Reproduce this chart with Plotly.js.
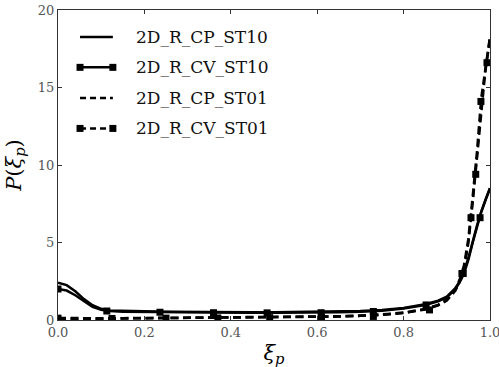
<!DOCTYPE html>
<html>
<head>
<meta charset="utf-8">
<script src="https://cdn.plot.ly/plotly-3.0.1.min.js"></script>
<style>html,body{margin:0;padding:0;background:#fff;}#chart{width:499px;height:367px;}</style>
</head>
<body>
<div id="chart"></div>
<script>
// ---- data ----
var seriesNames = ["2D_R_CP_ST10", "2D_R_CV_ST10", "2D_R_CP_ST01", "2D_R_CV_ST01"];
var xi = [0, 0.02, 0.04, 0.06, 0.08, 0.10, 0.12, 0.15, 0.2, 0.25, 0.3, 0.35, 0.4, 0.45, 0.5, 0.55, 0.6, 0.65, 0.7, 0.75, 0.8, 0.85, 0.88, 0.9, 0.92, 0.93, 0.94, 0.95, 0.96, 0.97, 0.98, 0.99, 1.0];
var cpST10 = [2.4, 2.25, 1.85, 1.35, 0.95, 0.72, 0.62, 0.58, 0.56, 0.54, 0.52, 0.51, 0.50, 0.50, 0.50, 0.51, 0.52, 0.54, 0.58, 0.64, 0.78, 1.02, 1.25, 1.5, 2.05, 2.5, 3.15, 4.0, 5.1, 6.1, 7.0, 7.8, 8.5];
var cvST10 = [2.0, 1.9, 1.6, 1.2, 0.85, 0.66, 0.58, 0.54, 0.52, 0.5, 0.48, 0.47, 0.46, 0.46, 0.46, 0.46, 0.47, 0.5, 0.54, 0.6, 0.74, 0.97, 1.2, 1.45, 2.0, 2.45, 3.0, 3.9, 5.0, 6.0, 7.0, 7.8, 8.5];
var cpST01 = [0.05, 0.06, 0.07, 0.08, 0.09, 0.1, 0.1, 0.11, 0.12, 0.13, 0.14, 0.15, 0.16, 0.17, 0.18, 0.19, 0.2, 0.23, 0.27, 0.33, 0.45, 0.68, 0.95, 1.25, 1.9, 2.5, 3.3, 5.0, 7.6, 10.6, 13.8, 16.3, 18.2];
var cvST01 = [0.12, 0.11, 0.1, 0.1, 0.1, 0.1, 0.1, 0.11, 0.12, 0.13, 0.14, 0.15, 0.16, 0.17, 0.18, 0.19, 0.2, 0.23, 0.28, 0.35, 0.47, 0.7, 0.97, 1.3, 2.0, 2.6, 3.5, 5.2, 7.9, 10.8, 14.3, 16.3, 18.2];
// marker positions
var cvST10MarkX = [0, 0.113, 0.236, 0.36, 0.484, 0.609, 0.73, 0.852, 0.938, 0.977];
var cvST10MarkY = [2.0, 0.58, 0.5, 0.47, 0.46, 0.47, 0.55, 0.97, 3.0, 6.6];
var cvST01MarkX = [0, 0.125, 0.25, 0.37, 0.49, 0.61, 0.73, 0.86, 0.935, 0.956, 0.967, 0.979, 0.993];
var cvST01MarkY = [0.12, 0.1, 0.12, 0.13, 0.15, 0.17, 0.23, 0.65, 3.0, 6.6, 9.4, 14.1, 16.6];
var xTicks = [0, 0.2, 0.4, 0.6, 0.8, 1.0];
var xTickText = ["0.0", "0.2", "0.4", "0.6", "0.8", "1.0"];
var yTicks = [0, 5, 10, 15, 20];
var yTickText = ["0", "5", "10", "15", "20"];

var SERIF = "DejaVu Serif";
var DASH = "8px,4.5px";

var traces = [
  {x: xi, y: cpST10, mode: "lines", line: {color: "#000", width: 2.5}, name: seriesNames[0]},
  {x: xi, y: cvST10, mode: "lines", line: {color: "#000", width: 2.5}, name: seriesNames[1]},
  {x: cvST10MarkX, y: cvST10MarkY, mode: "markers", marker: {symbol: "square", size: 7, color: "#000"}, name: seriesNames[1], showlegend: false},
  {x: xi, y: cpST01, mode: "lines", line: {color: "#000", width: 2.5, dash: DASH}, name: seriesNames[2]},
  {x: xi, y: cvST01, mode: "lines", line: {color: "#000", width: 2.8, dash: DASH}, name: seriesNames[3]},
  {x: cvST01MarkX, y: cvST01MarkY, mode: "markers", marker: {symbol: "square", size: 7, color: "#000"}, name: seriesNames[3], showlegend: false}
];

// manual legend (matplotlib style)
var legY = [0.913, 0.815, 0.716, 0.618];
var legX0 = 0.051, legX1 = 0.127, legTextX = 0.176;
var legDash = ["solid", "solid", "dash", "dash"];
var legMarkers = [false, true, false, true];
var shapes = [];
var annotations = [];
for (var i = 0; i < seriesNames.length; i++) {
  shapes.push({type: "line", xref: "paper", yref: "paper", x0: legX0, x1: legX1, y0: legY[i], y1: legY[i],
    line: {color: "#000", width: 2.5, dash: legDash[i] === "solid" ? "solid" : "6px,4px"}});
  if (legMarkers[i]) {
    [legX0, legX1].forEach(function (ax) {
      shapes.push({type: "rect", xref: "paper", yref: "paper", xsizemode: "pixel", ysizemode: "pixel",
        xanchor: ax, yanchor: legY[i], x0: -3.5, x1: 3.5, y0: -3.5, y1: 3.5,
        fillcolor: "#000", line: {width: 0}});
    });
  }
  annotations.push({xref: "paper", yref: "paper", x: legTextX, y: legY[i], xanchor: "left", yanchor: "middle",
    text: seriesNames[i], showarrow: false, font: {family: SERIF, size: 17, color: "#111"}});
}

var layout = {
  width: 499, height: 367,
  margin: {l: 58, r: 9, t: 10, b: 47},
  paper_bgcolor: "#fff", plot_bgcolor: "#fff",
  showlegend: false,
  font: {family: SERIF, color: "#000"},
  xaxis: {
    range: [0, 1], tickvals: xTicks, ticktext: xTickText, ticklabeloverflow: "allow",
    showline: true, linecolor: "#333", linewidth: 1, mirror: "allticks",
    ticks: "inside", ticklen: 4, tickcolor: "#333", showgrid: false, zeroline: false,
    tickfont: {family: SERIF, size: 13, color: "#555"},
    title: {text: "<i>ξ</i><sub><i>p</i></sub>", font: {family: SERIF, size: 21, color: "#000"}, standoff: 8}
  },
  yaxis: {
    range: [0, 20], tickvals: yTicks, ticktext: yTickText, ticklabeloverflow: "allow",
    showline: true, linecolor: "#333", linewidth: 1, mirror: "allticks",
    ticks: "inside", ticklen: 4, tickcolor: "#333", showgrid: false, zeroline: false,
    tickfont: {family: SERIF, size: 13, color: "#555"},
    title: {text: "<i>P</i>(<i>ξ</i><sub><i>p</i></sub>)", font: {family: SERIF, size: 21, color: "#000"}, standoff: 10}
  },
  shapes: shapes,
  annotations: annotations
};

Plotly.newPlot("chart", traces, layout, {displayModeBar: false, staticPlot: true});
</script>
</body>
</html>
